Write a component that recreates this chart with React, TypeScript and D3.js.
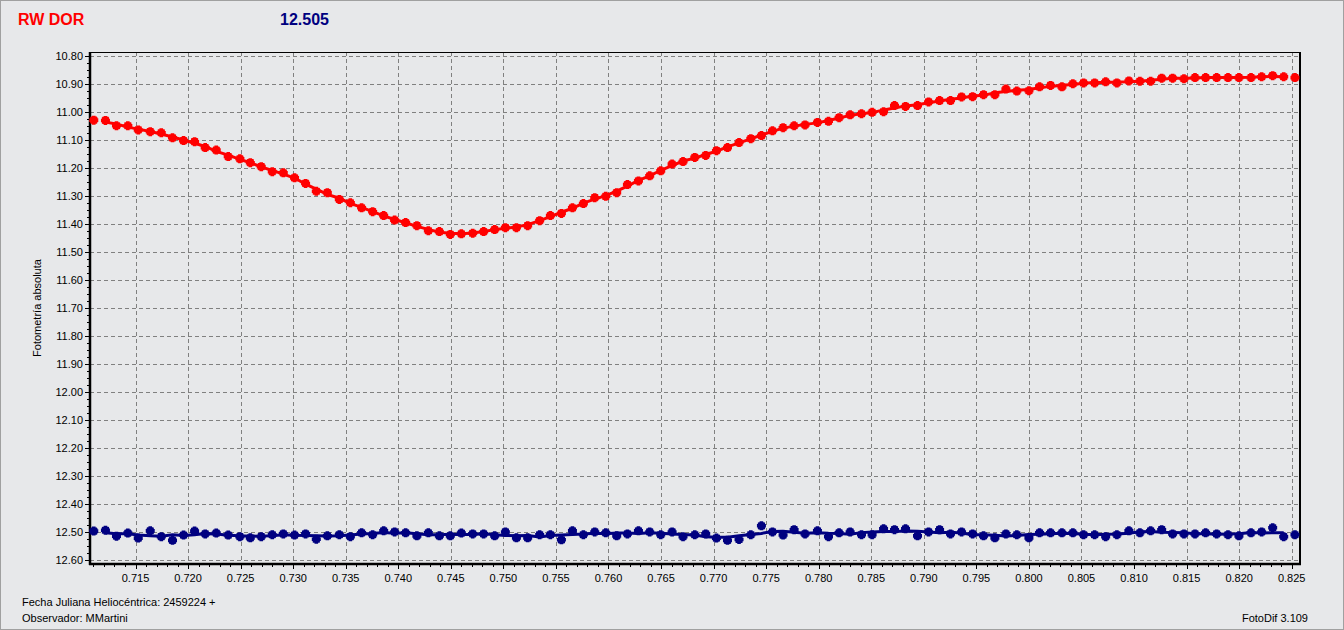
import React from "react";
import * as d3 from "d3";

const title = "RW DOR";
const compMag = "12.505";
const yLabel = "Fotometría absoluta";
const footLeft1 = "Fecha Juliana Heliocéntrica: 2459224 +";
const footLeft2 = "Observador: MMartini";
const footRight = "FotoDif 3.109";

const times = [
  0.71103, 0.71214, 0.71319, 0.71427, 0.71526, 0.7164, 0.71745, 0.71852, 0.71957, 0.72062,
  0.72163, 0.72268, 0.72382, 0.72493, 0.72592, 0.72696, 0.72801, 0.72906, 0.73013, 0.73118,
  0.7322, 0.73325, 0.73439, 0.73544, 0.73651, 0.73756, 0.73861, 0.73965, 0.7407, 0.74177,
  0.74286, 0.74391, 0.74495, 0.746, 0.74708, 0.74812, 0.74917, 0.75019, 0.75124, 0.75231,
  0.75345, 0.75447, 0.75552, 0.75657, 0.75761, 0.75869, 0.75974, 0.76078, 0.7618, 0.76285,
  0.76392, 0.76497, 0.76605, 0.76709, 0.76821, 0.76925, 0.77027, 0.77132, 0.77242, 0.77354,
  0.77455, 0.7756, 0.77661, 0.77766, 0.7787, 0.77988, 0.78093, 0.78194, 0.78299, 0.78407,
  0.78508, 0.78617, 0.78721, 0.78826, 0.7894, 0.79045, 0.7915, 0.79254, 0.79359, 0.79464,
  0.79568, 0.79676, 0.79781, 0.79885, 0.8, 0.80101, 0.80206, 0.80314, 0.80418, 0.8052,
  0.80625, 0.8073, 0.80837, 0.80951, 0.81056, 0.81158, 0.81263, 0.81367, 0.81475, 0.8158,
  0.81681, 0.81786, 0.81894, 0.81998, 0.82113, 0.82214, 0.82319, 0.82424, 0.82531,
];

const varMag = [
  11.029, 11.03, 11.049, 11.049, 11.064, 11.07, 11.074, 11.092, 11.102, 11.106,
  11.127, 11.136, 11.159, 11.167, 11.181, 11.195, 11.213, 11.217, 11.235, 11.255,
  11.283, 11.288, 11.312, 11.324, 11.342, 11.356, 11.37, 11.386, 11.395, 11.406,
  11.424, 11.427, 11.437, 11.435, 11.433, 11.427, 11.42, 11.413, 11.413, 11.406,
  11.388, 11.37, 11.362, 11.342, 11.327, 11.306, 11.301, 11.288, 11.259, 11.246,
  11.228, 11.21, 11.186, 11.177, 11.162, 11.155, 11.138, 11.127, 11.109, 11.095,
  11.084, 11.067, 11.056, 11.049, 11.046, 11.037, 11.033, 11.02, 11.01, 11.006,
  11.001, 10.999, 10.977, 10.98, 10.977, 10.964, 10.959, 10.959, 10.946, 10.945,
  10.938, 10.938, 10.918, 10.925, 10.924, 10.91, 10.905, 10.91, 10.899, 10.896,
  10.896, 10.892, 10.896, 10.889, 10.89, 10.89, 10.879, 10.879, 10.881, 10.877,
  10.877, 10.877, 10.877, 10.877, 10.877, 10.874, 10.87, 10.874, 10.877,
];

const checkMag = [
  12.497, 12.494, 12.515, 12.504, 12.522, 12.496, 12.517, 12.53, 12.511, 12.497,
  12.507, 12.504, 12.511, 12.517, 12.521, 12.517, 12.51, 12.507, 12.511, 12.507,
  12.526, 12.514, 12.51, 12.517, 12.503, 12.51, 12.496, 12.5, 12.503, 12.514,
  12.503, 12.514, 12.514, 12.504, 12.507, 12.507, 12.514, 12.5, 12.521, 12.521,
  12.51, 12.51, 12.528, 12.496, 12.51, 12.5, 12.503, 12.514, 12.507, 12.496,
  12.5, 12.51, 12.5, 12.517, 12.51, 12.507, 12.522, 12.53, 12.527, 12.51,
  12.478, 12.5, 12.511, 12.492, 12.507, 12.496, 12.517, 12.503, 12.5, 12.51,
  12.51, 12.489, 12.492, 12.489, 12.514, 12.5, 12.492, 12.507, 12.5, 12.507,
  12.514, 12.521, 12.507, 12.51, 12.521, 12.503, 12.503, 12.503, 12.503, 12.51,
  12.51, 12.517, 12.51, 12.496, 12.503, 12.496, 12.492, 12.507, 12.507, 12.507,
  12.503, 12.507, 12.51, 12.514, 12.503, 12.5, 12.485, 12.517, 12.51,
];

const xTicks = [0.715, 0.72, 0.725, 0.73, 0.735, 0.74, 0.745, 0.75, 0.755, 0.76, 0.765, 0.77, 0.775, 0.78, 0.785, 0.79, 0.795, 0.8, 0.805, 0.81, 0.815, 0.82, 0.825];
const yTicks = [10.8, 10.9, 11.0, 11.1, 11.2, 11.3, 11.4, 11.5, 11.6, 11.7, 11.8, 11.9, 12.0, 12.1, 12.2, 12.3, 12.4, 12.5, 12.6];

const W = 1344;
const H = 630;
const L = 90, R = 1300, T = 52, B = 564;
const BG = "#e7e8ea";

function smooth(vals: number[], half: number) {
  return vals.map((_, i) => {
    const lo = Math.max(0, i - half);
    const hi = Math.min(vals.length - 1, i + half);
    return d3.mean(vals.slice(lo, hi + 1)) as number;
  });
}

// rounded-plus marker, like the pixel dots of the original
const markerPath = "M-2,-5H2V-4H3.5V-3.5H4V-2H5V2H4V3.5H3.5V4H2V5H-2V4H-3.5V3.5H-4V2H-5V-2H-4V-3.5H-3.5V-4H-2Z";

export default function App() {
  const x = d3.scaleLinear().domain([0.71067, 0.82579]).range([L, R]);
  const y = d3.scaleLinear().domain([10.7855, 12.6145]).range([T, B]);

  const xMinor = d3.range(0.711, 0.8256, 0.001).filter((v) => x(v) >= L && x(v) <= R);
  const yMinor = d3.range(10.8, 12.601, 0.025);

  const line = d3
    .line<[number, number]>()
    .x((d) => x(d[0]))
    .y((d) => y(d[1]));

  const mkLine = (vals: number[], half: number) => {
    const sm = smooth(vals, half);
    const pts: [number, number][] = [];
    for (let i = 1; i < vals.length - 1; i++) pts.push([times[i], sm[i]]);
    return line(pts) || "";
  };

  const font = "'Liberation Sans', Arial, sans-serif";
  const ms = 0.9;

  return (
    <svg
      width={W}
      height={H}
      style={{ position: "absolute", left: 0, top: 0, display: "block" }}
      fontFamily={font}
    >
      <rect x={0} y={0} width={W} height={H} fill={BG} />
      <rect x={0.5} y={0.5} width={W - 1} height={H - 1} fill="none" stroke="#a0a0a0" />

      <text x={18} y={25} fill="#ff0000" fontSize={16} fontWeight="bold">{title}</text>
      <text x={280} y={25} fill="#000080" fontSize={16} fontWeight="bold">{compMag}</text>

      {/* grid */}
      {yTicks.map((t) => (
        <line key={"gy" + t} x1={L} x2={R} y1={Math.round(y(t)) + 0.5} y2={Math.round(y(t)) + 0.5} stroke="#808080" strokeDasharray="4,3" />
      ))}
      {xTicks.map((t) => (
        <line key={"gx" + t} x1={Math.round(x(t)) + 0.5} x2={Math.round(x(t)) + 0.5} y1={T} y2={B} stroke="#808080" strokeDasharray="4,3" />
      ))}

      {/* ticks */}
      {yMinor.map((t) => (
        <line key={"ym" + t} x1={L - 3} x2={L} y1={Math.round(y(t)) + 0.5} y2={Math.round(y(t)) + 0.5} stroke="#000" />
      ))}
      {yTicks.map((t) => (
        <g key={"yt" + t}>
          <line x1={L - 5} x2={L} y1={Math.round(y(t)) + 0.5} y2={Math.round(y(t)) + 0.5} stroke="#000" />
          <text x={L - 7} y={y(t)} dy="0.35em" textAnchor="end" fontSize={11} fill="#000">{t.toFixed(2)}</text>
        </g>
      ))}
      {xMinor.map((t) => (
        <line key={"xm" + t} x1={Math.round(x(t)) + 0.5} x2={Math.round(x(t)) + 0.5} y1={B} y2={B + 3} stroke="#000" />
      ))}
      {xTicks.map((t) => (
        <g key={"xt" + t}>
          <line x1={Math.round(x(t)) + 0.5} x2={Math.round(x(t)) + 0.5} y1={B} y2={B + 5} stroke="#000" />
          <text x={x(t)} y={582} textAnchor="middle" fontSize={11} fill="#000">{t.toFixed(3)}</text>
        </g>
      ))}

      {/* frame */}
      <line x1={L} x2={R} y1={T + 0.5} y2={T + 0.5} stroke="#000" strokeWidth={1} />
      <line x1={R} x2={R} y1={T} y2={B} stroke="#000" strokeWidth={2} />
      <line x1={L} x2={L} y1={T} y2={B + 1} stroke="#000" strokeWidth={2.5} />
      <line x1={L - 1} x2={R + 1} y1={B} y2={B} stroke="#000" strokeWidth={2.5} />

      {/* series */}
      <path d={mkLine(varMag, 1)} fill="none" stroke="#ff0000" strokeWidth={3} />
      {times.map((t, i) => (
        <path key={"r" + i} d={markerPath} transform={`translate(${x(t)},${y(varMag[i])}) scale(${ms})`} fill="#ff0000" />
      ))}
      <path d={mkLine(checkMag, 2)} fill="none" stroke="#000080" strokeWidth={3} />
      {times.map((t, i) => (
        <path key={"b" + i} d={markerPath} transform={`translate(${x(t)},${y(checkMag[i])}) scale(${ms})`} fill="#000080" />
      ))}

      <text transform={`translate(41,308) rotate(-90)`} textAnchor="middle" fontSize={11} fill="#000">{yLabel}</text>

      <text x={22} y={606} fontSize={11} fill="#000">{footLeft1}</text>
      <text x={22} y={622} fontSize={11} fill="#000">{footLeft2}</text>
      <text x={1308} y={622} textAnchor="end" fontSize={11} fill="#000">{footRight}</text>
    </svg>
  );
}
